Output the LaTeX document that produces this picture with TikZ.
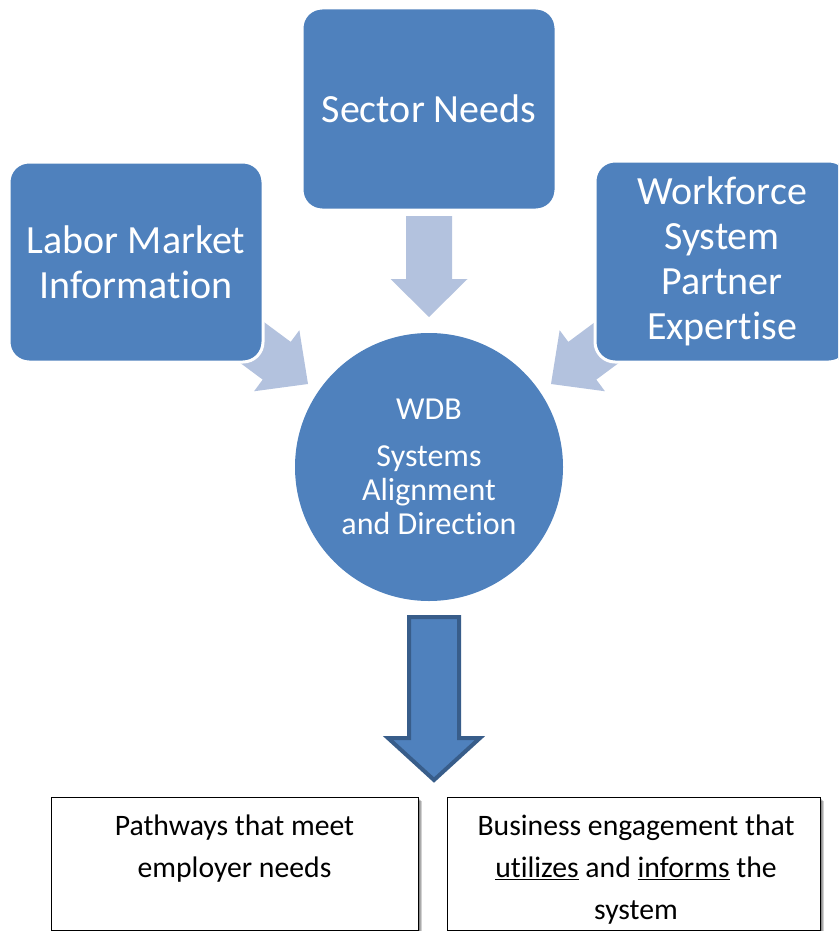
\documentclass[tikz,border=0pt]{standalone}
\usepackage{fontspec}
\setmainfont[Ligatures=NoCommon, RawFeature=-liga, RawFeature=-calt]{Carlito}
\definecolor{boxblue}{HTML}{4F81BD}
\definecolor{arrowlight}{HTML}{B3C2DE}
\definecolor{arrowedge}{HTML}{385D8A}

% block arrow with its tip at #1, pointing at angle #2;
% #3 head length, #4 head half-width, #5 shaft half-width, #6 total length
\newcommand{\blockarrow}[6]{%
  \begin{scope}[shift={#1}, rotate=#2]
    \fill[arrowlight] (0,0) -- (-#3,#4) -- (-#3,#5) -- (-#6,#5)
      -- (-#6,-#5) -- (-#3,-#5) -- (-#3,-#4) -- cycle;
  \end{scope}}

\begin{document}
\begin{tikzpicture}[x=1pt,y=-1pt,
  topbox/.style={rectangle, fill=boxblue, draw=white, line width=3pt,
    rounded corners=20pt, text=white, align=center,
    font=\fontsize{40}{45}\selectfont},
  hub/.style={circle, fill=boxblue, inner sep=0pt, minimum size=268pt,
    text=white, align=center, font=\fontsize{32}{34}\selectfont},
  outbox/.style={rectangle, draw=black, line width=1pt, fill=white,
    inner sep=0pt, anchor=north west},
  outtext/.style={align=center, anchor=north, inner sep=0pt,
    font=\fontsize{29.7}{42}\selectfont},
]
\useasboundingbox (0,0) rectangle (838,931);
\clip (0,0) rectangle (838,931);

% light input arrows, drawn first so the box outlines lie over them
\blockarrow{(429,317)}{-90}{38}{38.5}{23}{101}
\blockarrow{(308,384)}{-36.6}{39}{38}{23.5}{100}
\blockarrow{(551,384)}{-143.4}{39}{38}{23.5}{100}

% input boxes
\node[topbox, minimum width=254pt, minimum height=202pt] (sector) at (429,109) {Sector Needs};
\node[topbox, minimum width=254pt, minimum height=200pt] (labor) at (136,262) {Labor Market\\Information};
\node[topbox, minimum width=254pt, minimum height=201pt] (partner) at (722,261.5) {Workforce\\System\\Partner\\Expertise};

% central board
\node[hub] (wdb) at (429,467) {WDB\\[13pt]Systems\\Alignment\\and Direction};

% output arrow
\coordinate (outtop) at (434,617);
\coordinate (outtip) at (434,780);
\draw[fill=boxblue, draw=arrowedge, line width=4pt, line join=miter]
  ([xshift=-25pt]outtop) -- ([xshift=25pt]outtop) -- ([xshift=25pt]434,738)
  -- ([xshift=46pt]434,738) -- (outtip) -- ([xshift=-46pt]434,738)
  -- ([xshift=-25pt]434,738) -- cycle;

% outcome boxes with soft shadows
\foreach \d in {2,3,4} {
  \fill[black, opacity=0.18] (51+\d,797+\d) rectangle (418+\d,930+\d);
  \fill[black, opacity=0.18] (447+\d,797+\d) rectangle (820+\d,930+\d);
}
\node[outbox, minimum width=367pt, minimum height=133pt] (pathways) at (51,797) {};
\node[outbox, minimum width=373pt, minimum height=133pt] (business) at (447,797) {};
\node[outtext] (pathtext) at (234.5,815) {Pathways that meet\\employer needs};
\node[outtext] (bustext) at (636,815) {Business engagement that\\\underline{utilizes} and \underline{informs} the\\system};
\end{tikzpicture}
\end{document}
